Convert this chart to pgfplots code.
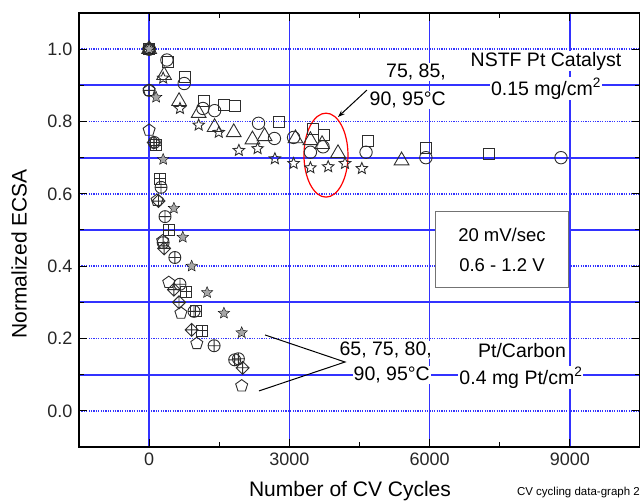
\documentclass[border=0pt]{standalone}
\usepackage{fontspec}
\setmainfont{Liberation Sans}
\usepackage{pgfplots}
\pgfplotsset{compat=1.18}
\usetikzlibrary{plotmarks,arrows.meta}
\definecolor{gridblue}{RGB}{50,50,255}
\definecolor{mk}{RGB}{45,45,45}

\pgfdeclareplotmark{ostar}{%
  \pgfpathmoveto{\pgfpointpolar{90}{\pgfplotmarksize}}%
  \pgfpathlineto{\pgfpointpolar{126}{0.45\pgfplotmarksize}}%
  \pgfpathlineto{\pgfpointpolar{162}{\pgfplotmarksize}}%
  \pgfpathlineto{\pgfpointpolar{198}{0.45\pgfplotmarksize}}%
  \pgfpathlineto{\pgfpointpolar{234}{\pgfplotmarksize}}%
  \pgfpathlineto{\pgfpointpolar{270}{0.45\pgfplotmarksize}}%
  \pgfpathlineto{\pgfpointpolar{306}{\pgfplotmarksize}}%
  \pgfpathlineto{\pgfpointpolar{342}{0.45\pgfplotmarksize}}%
  \pgfpathlineto{\pgfpointpolar{18}{\pgfplotmarksize}}%
  \pgfpathlineto{\pgfpointpolar{54}{0.45\pgfplotmarksize}}%
  \pgfpathclose
  \pgfusepathqstroke
}
\pgfdeclareplotmark{fstar}{%
  \pgfpathmoveto{\pgfpointpolar{90}{\pgfplotmarksize}}%
  \pgfpathlineto{\pgfpointpolar{126}{0.45\pgfplotmarksize}}%
  \pgfpathlineto{\pgfpointpolar{162}{\pgfplotmarksize}}%
  \pgfpathlineto{\pgfpointpolar{198}{0.45\pgfplotmarksize}}%
  \pgfpathlineto{\pgfpointpolar{234}{\pgfplotmarksize}}%
  \pgfpathlineto{\pgfpointpolar{270}{0.45\pgfplotmarksize}}%
  \pgfpathlineto{\pgfpointpolar{306}{\pgfplotmarksize}}%
  \pgfpathlineto{\pgfpointpolar{342}{0.45\pgfplotmarksize}}%
  \pgfpathlineto{\pgfpointpolar{18}{\pgfplotmarksize}}%
  \pgfpathlineto{\pgfpointpolar{54}{0.45\pgfplotmarksize}}%
  \pgfpathclose
  \pgfusepathqfillstroke
}
\pgfdeclareplotmark{sqplus}{%
  \pgfpathrectangle{\pgfpoint{-\pgfplotmarksize}{-\pgfplotmarksize}}{\pgfpoint{2\pgfplotmarksize}{2\pgfplotmarksize}}%
  \pgfpathmoveto{\pgfpoint{-\pgfplotmarksize}{0pt}}\pgfpathlineto{\pgfpoint{\pgfplotmarksize}{0pt}}%
  \pgfpathmoveto{\pgfpoint{0pt}{-\pgfplotmarksize}}\pgfpathlineto{\pgfpoint{0pt}{\pgfplotmarksize}}%
  \pgfusepathqstroke
}
\pgfdeclareplotmark{dplus}{%
  \pgfpathmoveto{\pgfpoint{0pt}{\pgfplotmarksize}}%
  \pgfpathlineto{\pgfpoint{\pgfplotmarksize}{0pt}}%
  \pgfpathlineto{\pgfpoint{0pt}{-\pgfplotmarksize}}%
  \pgfpathlineto{\pgfpoint{-\pgfplotmarksize}{0pt}}%
  \pgfpathclose
  \pgfpathmoveto{\pgfpoint{-\pgfplotmarksize}{0pt}}\pgfpathlineto{\pgfpoint{\pgfplotmarksize}{0pt}}%
  \pgfpathmoveto{\pgfpoint{0pt}{-\pgfplotmarksize}}\pgfpathlineto{\pgfpoint{0pt}{\pgfplotmarksize}}%
  \pgfusepathqstroke
}

\begin{document}
\begin{tikzpicture}
\path[use as bounding box] (-79bp,-54bp) rectangle (561bp,447bp);
\begin{axis}[
  at={(0,0)}, anchor=south west,
  scale only axis, width=561bp, height=434bp,
  xmin=-1500, xmax=10500, ymin=-0.1, ymax=1.1,
  xtick={0,3000,6000,9000}, minor xtick={1500,4500,7500},
  ytick={0,0.2,0.4,0.6,0.8,1.0}, minor ytick={0.1,0.3,0.5,0.7,0.9},
  scaled x ticks=false, scaled y ticks=false,
  tick pos=both, tick align=inside,
  major tick length=8bp, minor tick length=5bp,
  every tick/.style={black, line width=1bp},
  axis line style={black, line width=1.5bp},
  xmajorgrids, ymajorgrids, yminorgrids,
  grid style={draw=gridblue, line width=1.7bp},
  major x grid style={draw=gridblue, line width=1.7bp},
  major y grid style={draw=gridblue, line width=1.6bp, dash pattern=on 1.2bp off 1.2bp},
  minor y grid style={draw=gridblue, line width=1.7bp},
  xticklabel style={/pgf/number format/1000 sep={}},
  yticklabel style={/pgf/number format/fixed, /pgf/number format/fixed zerofill, /pgf/number format/precision=1},
  /pgf/number format/assume math mode=true,
  tick label style={font=\fontsize{18bp}{20bp}\selectfont, black!85},
  xticklabel shift=2bp, yticklabel shift=3bp,
  xlabel={Number of CV Cycles}, ylabel={Normalized ECSA},
  every axis x label/.style={at={(axis description cs:0.483,0)}, yshift=-44bp, anchor=center, font=\fontsize{21bp}{24bp}\selectfont},
  every axis y label/.style={at={(axis description cs:0,0.445)}, xshift=-60bp, rotate=90, anchor=center, font=\fontsize{21bp}{24bp}\selectfont},
  only marks,
  every axis plot/.append style={mark options={solid, draw=mk, line width=0.9bp}},
]
% NSTF group
\addplot[mark=o, mark size=6.2bp] coordinates {(0,1.0)(380,0.97)(750,0.905)(1150,0.836)(1400,0.83)(2340,0.795)(2680,0.753)(3090,0.756)(3450,0.715)(3720,0.73)(4640,0.715)(5920,0.70)(8810,0.70)};
\addplot[mark=square, mark size=5.5bp] coordinates {(0,1.0)(400,0.964)(770,0.922)(1170,0.858)(1600,0.845)(1830,0.842)(2770,0.80)(3510,0.78)(3740,0.762)(4680,0.745)(5920,0.728)(7260,0.709)};
\addplot[mark=triangle, mark size=8.5bp] coordinates {(0,1.0)(320,0.928)(640,0.856)(1060,0.823)(1400,0.784)(1810,0.77)(2210,0.75)(2470,0.759)(3130,0.753)(3450,0.748)(3700,0.737)(4040,0.712)(5400,0.692)};
\addplot[mark=ostar, mark size=6bp] coordinates {(0,1.0)(300,0.92)(660,0.836)(1060,0.79)(1490,0.77)(1920,0.72)(2320,0.725)(2690,0.697)(3090,0.684)(3450,0.672)(3830,0.675)(4190,0.684)(4550,0.67)};
% Pt/Carbon group
\addplot[mark=pentagon, mark size=6.3bp] coordinates {(0,1.0)(0,0.886)(0,0.776)(170,0.582)(290,0.47)(420,0.355)(680,0.27)(1020,0.186)(1980,0.069)};
\addplot[mark=dplus, mark size=6.5bp] coordinates {(0,1.0)(100,0.742)(200,0.58)(320,0.449)(530,0.335)(640,0.30)(910,0.224)(2000,0.119)};
\addplot[mark=oplus, mark size=6bp] coordinates {(0,1.0)(0,0.886)(110,0.742)(255,0.618)(340,0.537)(300,0.465)(550,0.424)(660,0.35)(960,0.275)(1390,0.18)(1830,0.141)(1910,0.144)};
\addplot[mark=sqplus, mark size=5.5bp] coordinates {(0,1.0)(150,0.735)(230,0.642)(420,0.50)(790,0.33)(1000,0.275)(1130,0.222)};
\addplot[mark=fstar, mark size=6bp, mark options={fill=black!35}] coordinates {(0,1.0)(150,0.867)(300,0.695)(530,0.56)(720,0.48)(910,0.40)(1240,0.327)(1600,0.27)(1980,0.216)};

% annotations
\draw[red, line width=1.2bp] (axis cs:3783,0.707) ellipse [x radius=22bp, y radius=42bp];
\draw[black, line width=1bp, -{Stealth[length=7bp,width=5bp]}] (axis cs:4660,0.887) -- (axis cs:4040,0.8125);
\draw[black, line width=1bp] (axis cs:2479,0.2098) -- (axis cs:4190,0.135) -- (axis cs:2350,0.055);
\begin{scope}[every node/.style={fill=white, inner sep=1bp, font=\fontsize{19.5bp}{22bp}\selectfont}]
\node[anchor=east] at (axis cs:6372,0.937) {75, 85,};
\node[anchor=east] at (axis cs:6372,0.859) {90, 95°C};
\node at (axis cs:8489,0.967) {NSTF Pt Catalyst};
\node at (axis cs:8489,0.890) {0.15 mg/cm\textsuperscript{2}};
\node[anchor=east] at (axis cs:6072,0.168) {65, 75, 80,};
\node[anchor=east] at (axis cs:6030,0.099) {90, 95°C};
\node at (axis cs:7976,0.168) {Pt/Carbon};
\node at (axis cs:7954,0.091) {0.4 mg Pt/cm\textsuperscript{2}};
\end{scope}
\draw[black!55, line width=1bp, fill=white] (axis cs:6136,0.550) rectangle (axis cs:8960,0.340);
\node[font=\fontsize{18.5bp}{21bp}\selectfont] at (axis cs:7548,0.486) {20 mV/sec};
\node[font=\fontsize{18.5bp}{21bp}\selectfont] at (axis cs:7548,0.403) {0.6 - 1.2 V};
\end{axis}
\node[anchor=east, inner sep=0pt, font=\fontsize{11.5bp}{13bp}\selectfont] at (561bp,-46bp) {CV cycling data-graph 2};
\end{tikzpicture}
\end{document}
